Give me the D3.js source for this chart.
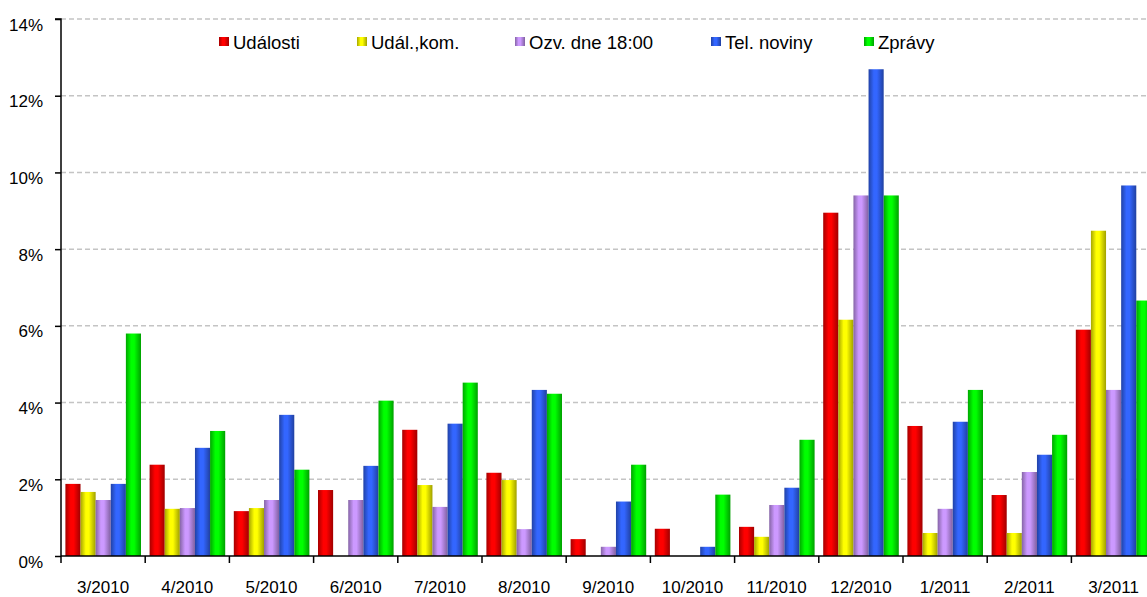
<!DOCTYPE html>
<html>
<head>
<meta charset="utf-8">
<script src="https://cdn.jsdelivr.net/npm/d3@7"></script>
<style>
  html, body { margin: 0; padding: 0; background: #fff; }
  svg { display: block; font-family: "Liberation Sans", Arial, sans-serif; }
</style>
</head>
<body>
<svg id="chart" width="1147" height="597"></svg>
<script>
const categories = ["3/2010","4/2010","5/2010","6/2010","7/2010","8/2010","9/2010","10/2010","11/2010","12/2010","1/2011","2/2011","3/2011"];
const seriesNames = ["Události","Udál.,kom.","Ozv. dne 18:00","Tel. noviny","Zprávy"];
const udalosti = [1.88,2.38,1.17,1.72,3.29,2.17,0.44,0.71,0.76,8.95,3.39,1.59,5.90];
const udalKom  = [1.67,1.23,1.25,0,1.85,1.98,0,0,0.50,6.16,0.60,0.60,8.48];
const ozvDne   = [1.46,1.25,1.46,1.46,1.28,0.70,0.24,0,1.33,9.40,1.23,2.19,4.33];
const telNoviny= [1.88,2.82,3.68,2.35,3.45,4.33,1.42,0.24,1.78,12.69,3.50,2.64,9.66];
const zpravy   = [5.80,3.26,2.25,4.05,4.52,4.23,2.38,1.60,3.03,9.40,4.33,3.16,6.66];
const yTicks = [0,2,4,6,8,10,12,14];
const seriesColors = ["#ff0000","#ffff00","#cc99ff","#3366ff","#00ff00"];

const seriesValues = [udalosti, udalKom, ozvDne, telNoviny, zpravy];

const svg = d3.select("#chart");
const mLeft = 61, mTop = 19, mBottom = 556, band = 84.2;

const x0 = d3.scaleBand().domain(categories).range([mLeft, mLeft + band * categories.length]).padding(0);
const x1 = d3.scaleBand().domain(seriesNames).range([4.4, 80.0]).padding(0);
const y = d3.scaleLinear().domain([0, 14]).range([mBottom, mTop]);

// gradients
const defs = svg.append("defs");
seriesColors.forEach((c, i) => {
  const base = d3.rgb(c);
  const g = defs.append("linearGradient").attr("id", "grad" + i)
    .attr("x1", "0%").attr("x2", "100%").attr("y1", "0%").attr("y2", "0%");
  g.append("stop").attr("offset", "0%").attr("stop-color", base.darker(1.2));
  g.append("stop").attr("offset", "35%").attr("stop-color", base);
  g.append("stop").attr("offset", "55%").attr("stop-color", base);
  g.append("stop").attr("offset", "100%").attr("stop-color", base.darker(1.3));
});

// gridlines
svg.append("g").selectAll("line").data(yTicks.filter(d => d > 0)).join("line")
  .attr("x1", mLeft).attr("x2", 1147)
  .attr("y1", d => y(d)).attr("y2", d => y(d))
  .attr("stroke", "#c4c4c4").attr("stroke-width", 1.5).attr("stroke-dasharray", "5,3");

// bars
const groups = svg.append("g").selectAll("g").data(categories).join("g")
  .attr("transform", c => `translate(${x0(c)},0)`);
groups.selectAll("rect").data((c, ci) => seriesNames.map((s, si) => ({s, si, v: seriesValues[si][ci]})))
  .join("rect")
  .attr("x", d => x1(d.s))
  .attr("width", x1.bandwidth())
  .attr("y", d => y(d.v))
  .attr("height", d => y(0) - y(d.v))
  .attr("fill", d => `url(#grad${d.si})`);

// y axis
const yAxis = d3.axisLeft(y).tickValues(yTicks).tickFormat(d => d + "%").tickSize(6).tickPadding(12);
const ya = svg.append("g").attr("transform", `translate(${mLeft},0)`).call(yAxis);
ya.select(".domain").attr("stroke", "#000").attr("stroke-width", 1.5).attr("d", `M-6,${mTop}H0V${mBottom + 7}`);
ya.selectAll(".tick line").attr("stroke", "#000").attr("stroke-width", 1.5);
ya.selectAll("text").attr("font-size", 17).attr("fill", "#000").attr("dy", "0.65em").attr("font-family", "Liberation Sans, Arial, sans-serif");

// x axis
const xAxis = d3.axisBottom(x0).tickSize(0).tickPadding(0);
const xa = svg.append("g").attr("transform", `translate(0,${mBottom})`).call(xAxis);
xa.select(".domain").attr("stroke", "#000").attr("stroke-width", 1.5).attr("d", `M${mLeft},0H1147`);
xa.selectAll("text").attr("font-size", 17).attr("fill", "#000").attr("y", 37).attr("dy", 0).attr("font-family", "Liberation Sans, Arial, sans-serif");
xa.selectAll(".tick line").remove();
svg.append("g").selectAll("line").data(categories.slice(1)).join("line")
  .attr("x1", c => x0(c)).attr("x2", c => x0(c))
  .attr("y1", mBottom).attr("y2", mBottom + 7)
  .attr("stroke", "#000").attr("stroke-width", 1.5);

// legend
const legendX = [219, 357, 515, 711, 864];
const leg = svg.append("g").selectAll("g").data(seriesNames).join("g")
  .attr("transform", (d, i) => `translate(${legendX[i]},0)`);
leg.append("rect").attr("x", 0).attr("y", 37).attr("width", 10).attr("height", 9)
  .attr("fill", (d, i) => `url(#grad${i})`);
leg.append("text").attr("x", 14).attr("y", 49).attr("font-size", 18.5).attr("fill", "#000").text(d => d);
</script>
</body>
</html>
